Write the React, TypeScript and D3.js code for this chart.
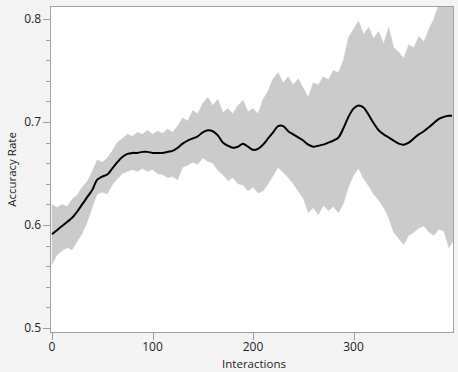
import React from "react";
import * as d3 from "d3";

// Interactions sampled every 5
const interactions: number[] = d3.range(0, 401, 5);

const meanRate: number[] = [
  0.591, 0.595, 0.599, 0.603, 0.607, 0.613, 0.620, 0.627, 0.634, 0.644,
  0.647, 0.649, 0.655, 0.661, 0.666, 0.669, 0.670, 0.670, 0.671, 0.671,
  0.670, 0.670, 0.670, 0.671, 0.672, 0.675, 0.679, 0.682, 0.684, 0.686,
  0.690, 0.692, 0.691, 0.687, 0.680, 0.677, 0.675, 0.676, 0.679, 0.676,
  0.673, 0.674, 0.678, 0.684, 0.690, 0.696, 0.696, 0.691, 0.688, 0.685,
  0.682, 0.678, 0.676, 0.677, 0.678, 0.680, 0.682, 0.685, 0.694, 0.705,
  0.713, 0.716, 0.714, 0.707, 0.699, 0.692, 0.688, 0.685, 0.682, 0.679,
  0.678, 0.680, 0.684, 0.688, 0.691, 0.695, 0.699, 0.703, 0.705, 0.706,
  0.706,
];

const upperRate: number[] = [
  0.620, 0.617, 0.620, 0.618, 0.625, 0.629, 0.637, 0.642, 0.652, 0.663,
  0.661, 0.665, 0.672, 0.680, 0.684, 0.688, 0.686, 0.690, 0.688, 0.692,
  0.688, 0.691, 0.689, 0.693, 0.690, 0.696, 0.704, 0.701, 0.711, 0.708,
  0.718, 0.724, 0.716, 0.722, 0.709, 0.713, 0.708, 0.716, 0.721, 0.710,
  0.713, 0.708, 0.722, 0.730, 0.742, 0.748, 0.738, 0.744, 0.736, 0.742,
  0.733, 0.724, 0.738, 0.736, 0.744, 0.741, 0.750, 0.748, 0.760, 0.782,
  0.790, 0.798, 0.785, 0.792, 0.781, 0.788, 0.776, 0.792, 0.772, 0.768,
  0.762, 0.775, 0.772, 0.783, 0.778, 0.790, 0.800, 0.815, 0.820, 0.820,
  0.820,
];

const lowerRate: number[] = [
  0.562, 0.571, 0.575, 0.578, 0.576, 0.584, 0.592, 0.603, 0.617, 0.630,
  0.632, 0.630, 0.639, 0.645, 0.650, 0.652, 0.654, 0.652, 0.655, 0.652,
  0.654, 0.650, 0.649, 0.646, 0.647, 0.644, 0.656, 0.658, 0.661, 0.659,
  0.665, 0.662, 0.660, 0.653, 0.649, 0.643, 0.646, 0.640, 0.639, 0.633,
  0.637, 0.631, 0.633, 0.640, 0.648, 0.656, 0.651, 0.646, 0.640, 0.633,
  0.626, 0.612, 0.617, 0.610, 0.619, 0.614, 0.618, 0.612, 0.621, 0.637,
  0.648, 0.655, 0.645, 0.638, 0.630, 0.624, 0.617, 0.607, 0.593, 0.587,
  0.581, 0.590, 0.593, 0.597, 0.599, 0.593, 0.590, 0.596, 0.594, 0.578,
  0.586,
];

const xTicks: number[] = [0, 100, 200, 300];
const yTicks: number[] = [0.5, 0.6, 0.7, 0.8];
const yMinorTicks: number[] = d3.range(0.5, 0.8001, 0.02);

const W = 458;
const H = 372;
const L = 50;
const R = 454;
const T = 6;
const B = 333;

export default function App() {
  const x = d3.scaleLinear().domain([-2, 400]).range([L, R]);
  const y = d3.scaleLinear().domain([0.5, 0.8]).range([328, 19]);

  const idx = interactions.map((_, i) => i);
  const area = d3
    .area<number>()
    .x((i) => x(interactions[i]))
    .y0((i) => y(lowerRate[i]))
    .y1((i) => y(upperRate[i]))
    .curve(d3.curveLinear);
  const line = d3
    .line<number>()
    .x((i) => x(Math.min(interactions[i], 398)))
    .y((i) => y(meanRate[i]))
    .curve(d3.curveCatmullRom);

  const font = "'Segoe UI', 'Open Sans', 'Noto Sans', sans-serif";

  return (
    <svg
      width={W}
      height={H}
      style={{ position: "absolute", left: 0, top: 0, background: "#f4f4f4" }}
    >
      <defs>
        <clipPath id="plotclip">
          <rect x={L} y={T} width={R - L} height={B - T} />
        </clipPath>
      </defs>
      <rect x={L} y={T} width={R - L} height={B - T} fill="#ffffff" />
      <g clipPath="url(#plotclip)">
        <path d={area(idx) || ""} fill="#cbcbcb" stroke="#cbcbcb" strokeWidth={0.5} />
        <path d={line(idx) || ""} fill="none" stroke="#000" strokeWidth={2} />
      </g>
      <rect
        x={L + 0.5}
        y={T + 0.5}
        width={R - L - 1}
        height={B - T - 1}
        fill="none"
        stroke="#a0a0a0"
      />
      {yMinorTicks.map((t) => (
        <line
          key={"m" + t}
          x1={L - 4}
          x2={L}
          y1={Math.round(y(t)) + 0.5}
          y2={Math.round(y(t)) + 0.5}
          stroke="#a0a0a0"
        />
      ))}
      {yTicks.map((t) => (
        <g key={"y" + t}>
          <line
            x1={L - 7}
            x2={L}
            y1={Math.round(y(t)) + 0.5}
            y2={Math.round(y(t)) + 0.5}
            stroke="#a0a0a0"
          />
          <text
            x={L - 9}
            y={y(t)}
            dy="0.35em"
            textAnchor="end"
            fontFamily={font}
            fontSize={12}
            fill="#222"
          >
            {d3.format(".1f")(t)}
          </text>
        </g>
      ))}
      {xTicks.map((t) => (
        <g key={"x" + t}>
          <line
            x1={Math.round(x(t)) + 0.5}
            x2={Math.round(x(t)) + 0.5}
            y1={B}
            y2={B + 7}
            stroke="#a0a0a0"
          />
          <text
            x={x(t)}
            y={B + 18}
            textAnchor="middle"
            fontFamily={font}
            fontSize={12}
            fill="#222"
          >
            {t}
          </text>
        </g>
      ))}
      <text
        x={(L + R) / 2 + 2}
        y={368}
        textAnchor="middle"
        fontFamily={font}
        fontSize={11.5}
        fill="#222"
      >
        Interactions
      </text>
      <text
        transform={`translate(16, ${(T + B) / 2}) rotate(-90)`}
        textAnchor="middle"
        fontFamily={font}
        fontSize={11.5}
        fill="#222"
      >
        Accuracy Rate
      </text>
    </svg>
  );
}
